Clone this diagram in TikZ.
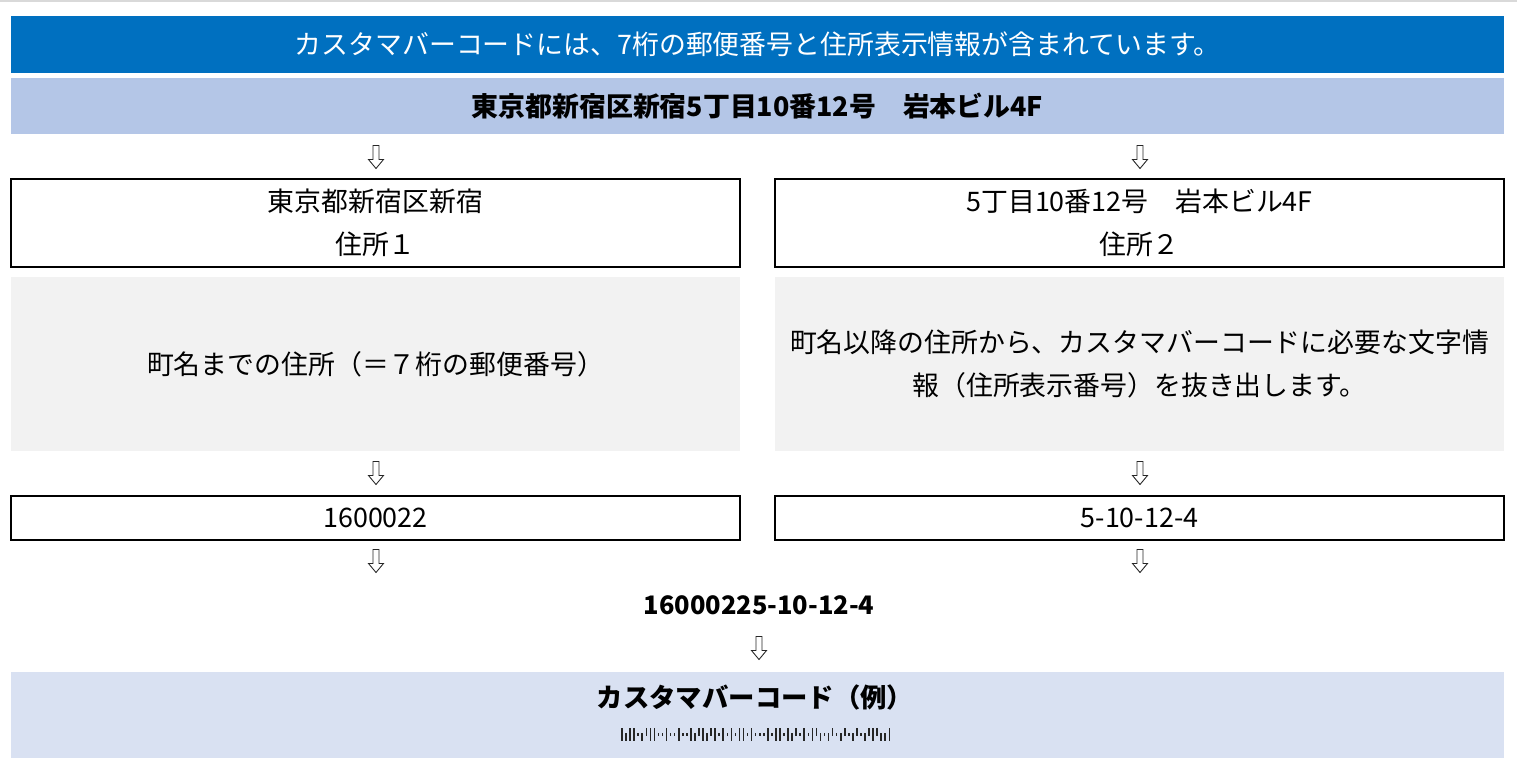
\documentclass[tikz,border=0pt]{standalone}
\usepackage{fontspec}
\setmainfont{Noto Sans CJK JP}
\definecolor{headblue}{HTML}{0070C0}
\definecolor{bandblue}{HTML}{B4C6E7}
\definecolor{paleblue}{HTML}{D9E1F2}
\definecolor{notegray}{HTML}{F2F2F2}
\def\pu{0.02cm}
\tikzset{
  band/.style={minimum width=1493*\pu, inner sep=0pt},
  half/.style={minimum width=729*\pu, inner sep=0pt, align=center},
  framed/.style={draw=black, line width=0.6pt, fill=white},
  arrowline/.style={draw=black!85, fill=white, line width=0.5pt, line join=miter},
  dnarrow/.pic={\path[arrowline] (-3,-11.5) -- (3,-11.5) -- (3,2.5) -- (7.5,2.5)
     -- (0,11.5) -- (-7.5,2.5) -- (-3,2.5) -- cycle;}
}
\begin{document}
\begin{tikzpicture}[x=0.02cm, y=-0.02cm, font=\fontsize{15.3pt}{24.8pt}\selectfont]
    \useasboundingbox (0,0) rectangle (1517,776);
    \draw[black!15, line width=1.2pt] (0,0.6) -- (1517,0.6);
    % title rows
    \node[band, fill=headblue, minimum height=57*\pu, text=white] (head) at (757.5,44.5)
      {カスタマバーコードには、7桁の郵便番号と住所表示情報が含まれています。};
    \node[band, fill=bandblue, minimum height=56*\pu, font=\fontsize{15.3pt}{24.8pt}\bfseries] (addrall) at (757.5,106)
      {東京都新宿区新宿5丁目10番12号　岩本ビル4F};
    % split of the address
    \node[half, framed, minimum height=88*\pu] (addr1) at (375.5,223) {東京都新宿区新宿\\住所１};
    \node[half, framed, minimum height=88*\pu] (addr2) at (1139.5,223) {5丁目10番12号　岩本ビル4F\\住所２};
    \node[half, fill=notegray, minimum height=174*\pu] (note1) at (375.5,364)
      {町名までの住所（＝７桁の郵便番号）};
    \node[half, fill=notegray, minimum height=174*\pu] (note2) at (1139.5,364)
      {町名以降の住所から、カスタマバーコードに必要な文字情\\報（住所表示番号）を抜き出します。};
    \node[half, framed, minimum height=44*\pu] (code1) at (375.5,518) {1600022};
    \node[half, framed, minimum height=44*\pu] (code2) at (1139.5,518) {5-10-12-4};
    \node[font=\fontsize{14.5pt}{24.8pt}\bfseries] (joined) at (759,605) {16000225-10-12-4};
    % result
    \node[band, fill=paleblue, minimum height=86*\pu] (sample) at (757.5,715) {};
    \node[font=\fontsize{15pt}{24.8pt}\bfseries] (sampletitle) at (755,697) {カスタマバーコード（例）};
    % arrows between the rows
    \coordinate (aL1) at (376,157);
    \coordinate (aR1) at (1140,157);
    \coordinate (aL2) at (376,473);
    \coordinate (aR2) at (1140,473);
    \coordinate (aL3) at (376,561);
    \coordinate (aR3) at (1140,561);
    \coordinate (aM) at (759,648);
    \foreach \a in {aL1,aR1,aL2,aR2,aL3,aR3,aM}
      \pic at (\a) {dnarrow};
    % bars: 1 long, 2 upper, 3 lower, 4 timing
    \foreach \b [count=\i from 0] in {1,3, 1,1,4, 3,2,1, 1,4,4, 1,4,4, 1,4,4, 1,3,2, 1,3,2,
        1,4,1, 4,1,4, 1,1,4, 1,4,4, 4,1,4, 1,1,4, 1,3,2, 4,1,4, 1,2,3,
        4,3,2, 4,3,2, 4,3,2, 4,3,2, 1,2,3, 3,1} {
      \ifcase\b\or\def\bt{728}\def\bb{741}\or\def\bt{728}\def\bb{736}\or\def\bt{733}\def\bb{741}\or\def\bt{733}\def\bb{736}\fi
      \fill[black!85] (622+\i*4.05-0.8,\bt) rectangle (622+\i*4.05+0.8,\bb);
    }
\end{tikzpicture}
\end{document}
